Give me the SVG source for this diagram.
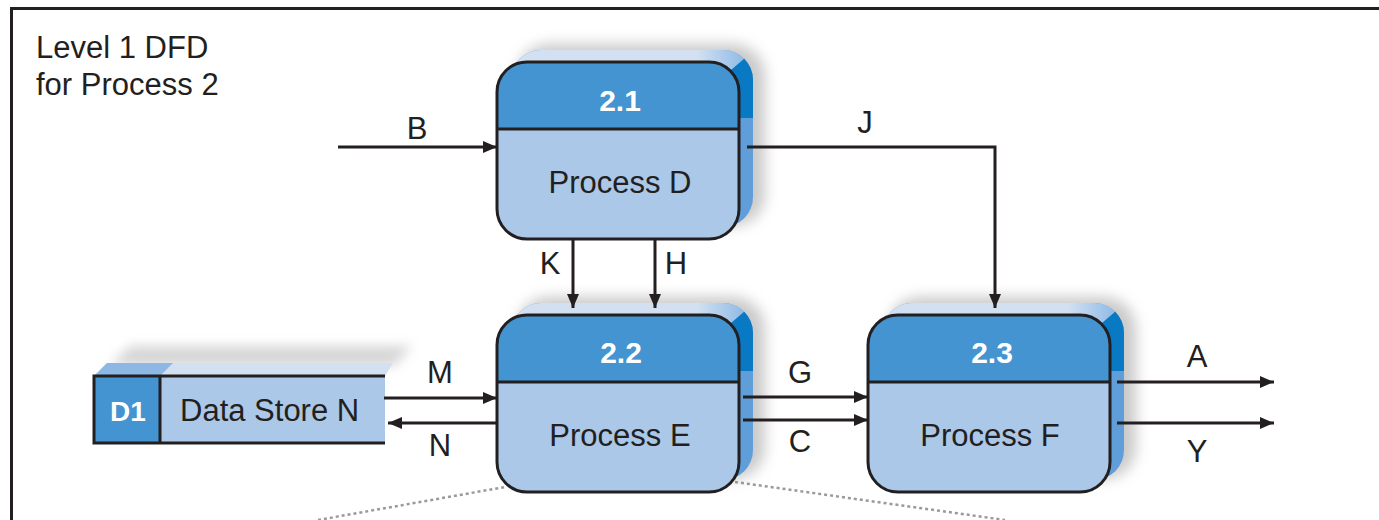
<svg xmlns="http://www.w3.org/2000/svg" width="1379" height="520" viewBox="0 0 1379 520">
<style>
text{font-family:"Liberation Sans",Arial,sans-serif;fill:#231f20}
.lbl{font-size:31px;text-anchor:middle}
.num{font-size:30px;font-weight:bold;fill:#ffffff;text-anchor:middle}
.pname{font-size:31px;text-anchor:middle}
.title{font-size:31px}
.ln{stroke:#231f20;stroke-width:3;fill:none}
.flow{stroke:#231f20;stroke-width:3;fill:none;marker-end:url(#ah)}
.dot{stroke:#9a9a9a;stroke-width:2.5;stroke-dasharray:3 3;fill:none}
</style>
<defs>
<filter id="blur" x="-20%" y="-20%" width="140%" height="140%"><feGaussianBlur stdDeviation="7"/></filter>
<filter id="blur2" x="-20%" y="-80%" width="140%" height="260%"><feGaussianBlur stdDeviation="6"/></filter>
<linearGradient id="topface" x1="0" y1="0" x2="1" y2="0">
<stop offset="0" stop-color="#d2e0f1"/>
<stop offset="0.8" stop-color="#d2e0f1"/>
<stop offset="1" stop-color="#8fbbe6"/>
</linearGradient>
<marker id="ah" markerUnits="userSpaceOnUse" markerWidth="14" markerHeight="12" refX="14" refY="6" orient="auto">
<path d="M0,0 L14,6 L0,12 Z" fill="#231f20"/>
</marker>
<g id="pbox">
<rect x="20" y="-18" width="248" height="182" rx="32" fill="#7a7a7a" opacity="0.4" filter="url(#blur)"/>
<rect x="14" y="-12" width="242" height="177" rx="30" fill="#5f9ed8"/>
<path d="M247.2,-3.2 A30,30 0 0 0 226,-12 L44,-12 A30,30 0 0 0 14,18 L14,40 L200,40 L233.2,8.8 Z" fill="url(#topface)"/>
<path d="M233.2,8.8 L247.2,-3.2 A30,30 0 0 1 256,18 L256,56 L240,56 L240,20 Z" fill="#0a79c3"/>
<rect x="0" y="0" width="242" height="177" rx="30" fill="#abc8e8"/>
<path d="M0,67 V30 A30,30 0 0 1 30,0 H212 A30,30 0 0 1 242,30 V67 Z" fill="#4394d1"/>
<line x1="0" y1="67" x2="242" y2="67" class="ln"/>
<rect x="0" y="0" width="242" height="177" rx="30" class="ln"/>
</g>
</defs>

<rect x="0" y="0" width="1379" height="520" fill="#ffffff"/>

<g id="frame">
<path d="M11.5,520 V8.5 H1379" class="ln"/>
</g>

<g id="title">
<text class="title" x="36" y="58">Level 1 DFD</text>
<text class="title" x="36" y="95">for Process 2</text>
</g>

<g id="detail-lines">
<line x1="318" y1="520" x2="505" y2="487" class="dot"/>
<line x1="735" y1="482" x2="1005" y2="520" class="dot"/>
</g>

<g id="process-2-1">
<use href="#pbox" x="497" y="62"/>
<text class="num" x="620" y="111">2.1</text>
<text class="pname" x="620" y="193">Process D</text>
</g>

<g id="process-2-2">
<use href="#pbox" x="497" y="315"/>
<text class="num" x="621" y="363">2.2</text>
<text class="pname" x="620" y="446">Process E</text>
</g>

<g id="process-2-3">
<use href="#pbox" x="868" y="315"/>
<text class="num" x="992" y="363">2.3</text>
<text class="pname" x="990" y="446">Process F</text>
</g>

<g id="datastore-d1">
<polygon points="110,366 130,346 412,346 394,366" fill="#8a8a8a" opacity="0.35" filter="url(#blur2)"/>
<polygon points="94,376 107,363 393,363 385,376" fill="#d2e0f1"/>
<polygon points="94,376 107,363 173,363 160,376" fill="#8db8e4"/>
<rect x="94" y="376" width="66" height="67" fill="#4394d1"/>
<rect x="160" y="376" width="225" height="67" fill="#abc8e8"/>
<path d="M385,376 H94 V443 H385" class="ln"/>
<line x1="160" y1="376" x2="160" y2="443" class="ln"/>
<text class="num" x="128" y="421" style="font-size:28px">D1</text>
<text class="pname" x="180" y="421" style="text-anchor:start">Data Store N</text>
</g>

<g id="connectors">
<path d="M338,147 H497" class="flow"/>
<path d="M747,147 H995 V308" class="flow"/>
<path d="M573,238 V308" class="flow"/>
<path d="M655,238 V308" class="flow"/>
<path d="M384,398 H497" class="flow"/>
<path d="M497,423 H388" class="flow"/>
<path d="M743,397 H868" class="flow"/>
<path d="M743,420 H868" class="flow"/>
<path d="M1117,382 H1274" class="flow"/>
<path d="M1117,423 H1274" class="flow"/>
</g>

<g id="labels">
<text class="lbl" x="417" y="139">B</text>
<text class="lbl" x="865" y="133">J</text>
<text class="lbl" x="550" y="274">K</text>
<text class="lbl" x="676" y="274">H</text>
<text class="lbl" x="440" y="383">M</text>
<text class="lbl" x="440" y="456">N</text>
<text class="lbl" x="800" y="383">G</text>
<text class="lbl" x="800" y="452">C</text>
<text class="lbl" x="1197" y="367">A</text>
<text class="lbl" x="1197" y="462">Y</text>
</g>
</svg>
